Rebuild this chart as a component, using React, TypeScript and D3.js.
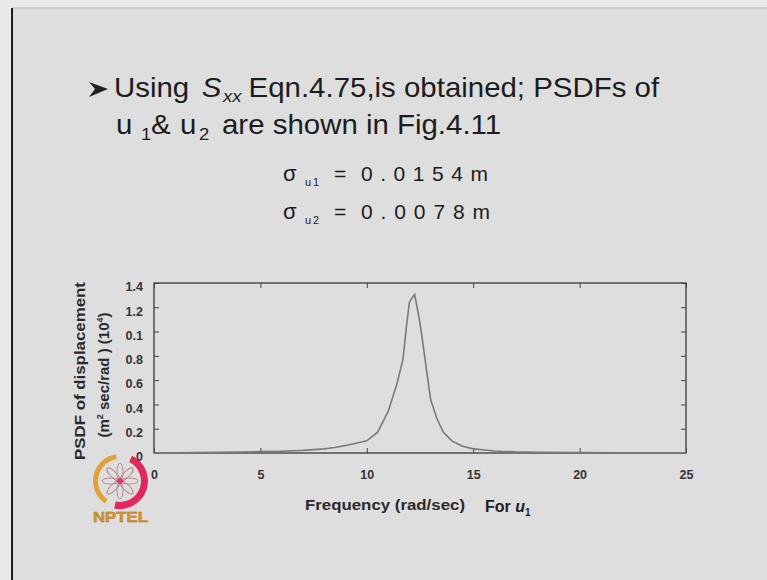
import * as d3 from 'd3';
import React, { useEffect, useRef } from 'react';

// PSDF of u1 (frequency in rad/sec, value x 10^4)
const freq = [0, 1, 2, 3, 4, 5, 6, 7, 8, 8.5, 9, 9.5, 10, 10.5, 11, 11.4, 11.7, 11.85, 12.0, 12.1, 12.25, 12.45, 12.6, 12.8, 13.0, 13.3, 13.6, 14.0, 14.5, 15, 16, 17, 18, 20, 22, 25];
const psd = [0, 0.002, 0.003, 0.005, 0.008, 0.011, 0.015, 0.022, 0.034, 0.045, 0.062, 0.08, 0.1, 0.17, 0.34, 0.56, 0.77, 1.02, 1.24, 1.27, 1.305, 1.12, 0.95, 0.69, 0.44, 0.28, 0.17, 0.1, 0.056, 0.034, 0.016, 0.009, 0.006, 0.003, 0.002, 0.001];

const xTicks = [0, 5, 10, 15, 20, 25];
const yTicks = [0, 0.2, 0.4, 0.6, 0.8, 1, 1.2, 1.4];
const yTickLabels = ['0', '0.2', '0.4', '0.6', '0.8', '0.1', '1.2', '1.4'];

const W = 767;
const H = 580;
const box = { left: 154, right: 686, top: 283, bottom: 453 };
const font = 'Liberation Sans, Arial, sans-serif';

// slide text is a little stretched sideways
const sx = 1.09;
const lx = (X) => 114 + (X - 114) / sx;

const Chart = () => {
  const ref = useRef(null);

  useEffect(() => {
    const svg = d3.select(ref.current);
    svg.selectAll('*').remove();

    const x = d3.scaleLinear().domain([0, 25]).range([box.left, box.right]);
    const y = d3.scaleLinear().domain([0, 1.4]).range([box.bottom, box.top]);

    const g = svg.append('g');

    g.append('rect')
      .attr('x', box.left)
      .attr('y', box.top)
      .attr('width', box.right - box.left)
      .attr('height', box.bottom - box.top)
      .attr('fill', 'none')
      .attr('stroke', '#2a2a2a')
      .attr('stroke-width', 1.2);

    const styleAxis = (a) => {
      a.select('.domain').remove();
      a.selectAll('line').attr('stroke', '#444');
      a.selectAll('text')
        .attr('font-family', font)
        .attr('font-weight', 'bold')
        .attr('font-size', 12.5)
        .attr('fill', '#333');
    };

    g.append('g')
      .attr('transform', `translate(0,${box.bottom})`)
      .call(d3.axisBottom(x).tickValues(xTicks).tickSizeInner(-5).tickSizeOuter(0).tickPadding(17).tickFormat(d3.format('d')))
      .call(styleAxis);

    g.append('g')
      .attr('transform', `translate(0,${box.top})`)
      .call(d3.axisTop(x).tickValues(xTicks).tickSizeInner(-5).tickSizeOuter(0).tickFormat(() => ''))
      .call(styleAxis);

    g.append('g')
      .attr('transform', `translate(${box.left},0)`)
      .call(
        d3.axisLeft(y).tickValues(yTicks).tickSizeInner(-5).tickSizeOuter(0).tickPadding(11)
          .tickFormat((d, i) => yTickLabels[i])
      )
      .call(styleAxis)
      .selectAll('text')
      .attr('dy', '0.62em');

    g.append('g')
      .attr('transform', `translate(${box.right},0)`)
      .call(d3.axisRight(y).tickValues(yTicks).tickSizeInner(-5).tickSizeOuter(0).tickFormat(() => ''))
      .call(styleAxis);

    const line = d3
      .line()
      .x((d) => x(d[0]))
      .y((d) => y(d[1]));

    g.append('path')
      .datum(freq.map((f, i) => [f, psd[i]]))
      .attr('d', line)
      .attr('fill', 'none')
      .attr('stroke', '#7a7a7a')
      .attr('stroke-width', 1.6);

    // NPTEL logo
    const logo = svg.append('g').attr('transform', 'translate(120,481)');
    const arc = d3.arc();
    logo.append('path')
      .attr('d', arc({ innerRadius: 22, outerRadius: 27, startAngle: -2.55, endAngle: -0.15 }))
      .attr('fill', '#e2a23a');
    logo.append('path')
      .attr('d', arc({ innerRadius: 21, outerRadius: 28, startAngle: 0.45, endAngle: 3.35 }))
      .attr('fill', '#e2265e');
    for (let k = 0; k < 8; k++) {
      logo.append('ellipse')
        .attr('cx', 0)
        .attr('cy', -9)
        .attr('rx', 3)
        .attr('ry', 9)
        .attr('transform', `rotate(${k * 45})`)
        .attr('fill', 'none')
        .attr('stroke', '#b98a92')
        .attr('stroke-width', 1);
    }
    logo.append('circle').attr('r', 3).attr('fill', '#d83a6a');
    svg.append('text')
      .attr('x', 93)
      .attr('y', 522)
      .attr('font-family', font)
      .attr('font-weight', 'bold')
      .attr('font-size', 14)
      .attr('fill', '#e09a2a')
      .attr('stroke', '#9a6a1a')
      .attr('stroke-width', 0.4)
      .attr('textLength', 55)
      .attr('lengthAdjust', 'spacingAndGlyphs')
      .text('NPTEL');
  }, []);

  return <g ref={ref} />;
};

const App = () => (
  <svg width={W} height={H} style={{ position: 'absolute', left: 0, top: 0 }}>
    <rect x={0} y={0} width={W} height={H} fill="#e9e9e9" />
    <rect x={12} y={8} width={W - 12} height={H - 8} fill="#dedede" />
    <line x1={12} y1={8} x2={W} y2={8} stroke="#b5b5b5" strokeWidth={1} />
    <line x1={12} y1={8} x2={12} y2={H} stroke="#1e1e1e" strokeWidth={2} />

    <path d="M89,82 L108,89 L89,97 L95,89 Z" fill="#222" />
    <g transform={`translate(114,0) scale(${sx},1) translate(-114,0)`} fontFamily={font} fontSize={27} fill="#1c1c1c">
      <text y={97}>
        <tspan x={114}>Using</tspan>
        <tspan x={lx(201.7)} fontStyle="italic">S</tspan>
        <tspan x={lx(223)} fontStyle="italic" fontSize={17} dy={5}>xx</tspan>
        <tspan x={lx(248.6)} dy={-5}>Eqn.4.75,is obtained; PSDFs of</tspan>
      </text>
      <text y={134}>
        <tspan x={lx(116)}>u</tspan>
        <tspan x={lx(141)} fontSize={17} dy={6}>1</tspan>
        <tspan x={lx(151)} dy={-6}>&amp;</tspan>
        <tspan x={lx(180)}>u</tspan>
        <tspan x={lx(199)} fontSize={17} dy={6}>2</tspan>
        <tspan x={lx(222)} dy={-6}>are shown in Fig.4.11</tspan>
      </text>
    </g>

    <text x={283} y={181} fontFamily={font} fontSize={22} fill="#1c1c1c">σ</text>
    <text x={305} y={186} fontFamily={font} fontSize={11} letterSpacing={2} fill="#1c1c1c">u1</text>
    <text x={334} y={181} fontFamily={font} fontSize={21} fill="#1c1c1c">=</text>
    <text x={361} y={181} fontFamily={font} fontSize={21} fill="#1c1c1c" textLength={127} lengthAdjust="spacing">0.0154m</text>

    <text x={283} y={219} fontFamily={font} fontSize={22} fill="#1c1c1c">σ</text>
    <text x={305} y={224} fontFamily={font} fontSize={11} letterSpacing={2} fill="#1c1c1c">u2</text>
    <text x={334} y={219} fontFamily={font} fontSize={21} fill="#1c1c1c">=</text>
    <text x={361} y={219} fontFamily={font} fontSize={21} fill="#1c1c1c" textLength={129} lengthAdjust="spacing">0.0078m</text>

    <text
      transform="translate(84.5,371) rotate(-90)"
      textAnchor="middle"
      fontFamily={font}
      fontWeight="bold"
      fontSize={15}
      fill="#2a2a2a"
      textLength={178}
      lengthAdjust="spacingAndGlyphs"
    >
      PSDF of displacement
    </text>
    <text
      transform="translate(109,375) rotate(-90)"
      textAnchor="middle"
      fontFamily={font}
      fontWeight="bold"
      fontSize={15}
      fill="#2a2a2a"
    >
      (m<tspan fontSize={9} dy={-6}>2</tspan>
      <tspan dy={6}> sec/rad ) (10</tspan>
      <tspan fontSize={9} dy={-6}>4</tspan>
      <tspan dy={6}>)</tspan>
    </text>

    <text x={305} y={510} fontFamily={font} fontWeight="bold" fontSize={14} fill="#2a2a2a" textLength={160} lengthAdjust="spacingAndGlyphs">
      Frequency (rad/sec)
    </text>
    <text x={485} y={512} fontFamily={font} fontWeight="bold" fontSize={16} fill="#1c1c1c">
      For <tspan fontStyle="italic">u</tspan>
      <tspan fontSize={10} dy={4}>1</tspan>
    </text>

    <Chart />
  </svg>
);

export default App;
